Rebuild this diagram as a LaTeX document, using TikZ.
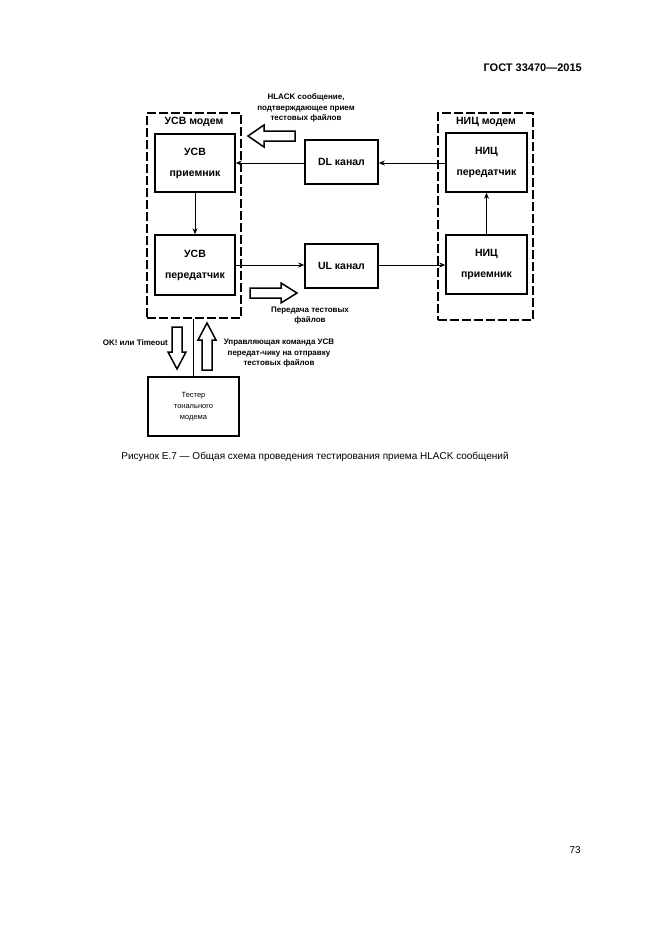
\documentclass[tikz,border=0pt]{standalone}
\usepackage{fontspec}
\setmainfont{Liberation Sans}
\usetikzlibrary{arrows.meta}
\begin{document}
\begin{tikzpicture}[x=1pt,y=-1pt,
  box/.style={draw,line width=1.6pt,inner sep=0pt,align=center,
    font=\bfseries\fontsize{10.5}{21}\selectfont},
  modem/.style={draw,line width=1.6pt,dash pattern=on 9pt off 3pt,inner sep=0pt},
  modemlabel/.style={font=\bfseries\fontsize{10.5}{12}\selectfont,inner sep=0pt},
  conn/.style={line width=0.8pt,-{Stealth[length=6pt,width=5pt]}},
  hollow/.style={draw,line width=1.5pt,fill=white,line join=miter},
  note/.style={font=\bfseries\fontsize{8}{10.5}\selectfont,align=center,inner sep=0pt}
]
\useasboundingbox (0,0) rectangle (661,935);
\fill[white] (0,0) rectangle (661,935);

% header / footer
\node[anchor=east,font=\bfseries\fontsize{11}{12}\selectfont,inner sep=0pt] (hdr) at (582,68) {ГОСТ 33470—2015};
\node[anchor=east,font=\fontsize{10}{12}\selectfont,inner sep=0pt] (pg) at (581,850) {73};

% modem frames
\node[modem,minimum width=94pt,minimum height=205pt] (usvm) at (194,215.5) {};
\node[modem,minimum width=95pt,minimum height=207pt] (nicm) at (485.5,216.5) {};
\node[modemlabel] (usvml) at (194,122) {УСВ модем};
\node[modemlabel] (nicml) at (486,122) {НИЦ модем};

% boxes
\node[box,minimum width=80pt,minimum height=58pt] (usvr) at (195,163) {УСВ\\приемник};
\node[box,minimum width=80pt,minimum height=60pt] (usvt) at (195,265) {УСВ\\передатчик};
\node[box,minimum width=73pt,minimum height=44pt] (dl) at (341.5,162) {DL канал};
\node[box,minimum width=73pt,minimum height=44pt] (ul) at (341.5,266) {UL канал};
\node[box,minimum width=81pt,minimum height=59pt] (nict) at (486.5,162.5) {НИЦ\\передатчик};
\node[box,minimum width=81pt,minimum height=59pt] (nicr) at (486.5,264.5) {НИЦ\\приемник};
\node[draw,line width=1.6pt,minimum width=91pt,minimum height=59pt,align=center,
  font=\fontsize{7.5}{11}\selectfont] (tester) at (193.5,406.5) {Тестер\\тонального\\модема};

% connectors
\draw[conn] (nict.west |- 0,163) -- (dl.east |- 0,163);
\draw[conn] (dl.west |- 0,163) -- (usvr.east |- 0,163);
\draw[conn] (usvt.east |- 0,265) -- (ul.west |- 0,265);
\draw[conn] (ul.east |- 0,265) -- (nicr.west |- 0,265);
\draw[conn] (usvr.south) -- (usvt.north);
\draw[conn] (nicr.north) -- (nict.south);
\draw[line width=0.8pt] (tester.north) -- (tester.north |- usvm.south);

% hollow arrows
\draw[hollow] (248,136) -- (264,125) -- (264,131) -- (295,131) -- (295,141) -- (264,141) -- (264,147) -- cycle;
\draw[hollow] (297,293) -- (281,283) -- (281,288) -- (250,288) -- (250,298) -- (281,298) -- (281,303) -- cycle;
\draw[hollow] (177,369) -- (168,352) -- (172,352) -- (172,327) -- (182,327) -- (182,352) -- (186,352) -- cycle;
\draw[hollow] (207,323) -- (198,340) -- (202,340) -- (202,370) -- (212,370) -- (212,340) -- (216,340) -- cycle;

% notes
\node[note] (n1) at (306,108) {HLACK сообщение,\\подтверждающее прием\\тестовых файлов};
\node[note] (n2) at (310,315.5) {Передача тестовых\\файлов};
\node[note,anchor=east] (n3) at (168,343) {OK! или Timeout};
\node[note] (n4) at (279,353.5) {Управляющая команда УСВ\\передат-чику на отправку\\тестовых файлов};

% caption
\node[font=\fontsize{10}{12}\selectfont,inner sep=0pt] (cap) at (315,457) {Рисунок Е.7 — Общая схема проведения тестирования приема HLACK сообщений};
\end{tikzpicture}
\end{document}
